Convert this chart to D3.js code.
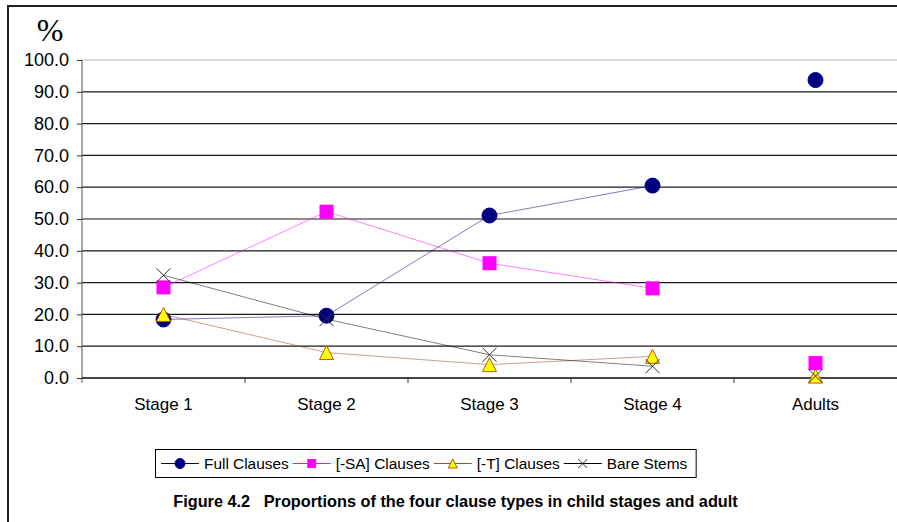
<!DOCTYPE html>
<html>
<head>
<meta charset="utf-8">
<script src="https://cdn.jsdelivr.net/npm/d3@7/dist/d3.min.js"></script>
<style>
  html, body { margin: 0; padding: 0; background: #fff; }
  svg { display: block; }
  text { font-family: "Liberation Sans", Arial, sans-serif; }
</style>
</head>
<body>
<svg id="chart" width="897" height="522"></svg>
<script>
// Groups along the x axis; only the child stages are joined by lines
const categories = ["Stage 1", "Stage 2", "Stage 3", "Stage 4", "Adults"];
const childStages = ["Stage 1", "Stage 2", "Stage 3", "Stage 4"];

// Percentages for each clause type, per group
const fullClauses = [18.4, 19.6, 51.1, 60.5, 93.7];
const saClauses   = [28.5, 52.3, 36.1, 28.2, 4.7];
const tClauses    = [20.0, 8.0, 4.2, 6.8, 0.6];
const bareStems   = [32.3, 18.5, 7.3, 3.7, 0.6];

const seriesNames = ["Full Clauses", "[-SA] Clauses", "[-T] Clauses", "Bare Stems"];
const yTicks = [0, 10, 20, 30, 40, 50, 60, 70, 80, 90, 100];

const series = [
  { name: seriesNames[0], values: fullClauses, shape: "circle",
    line: "#000080", lineOpacity: 0.5, legendLine: "#000080" },
  { name: seriesNames[1], values: saClauses, shape: "square",
    line: "#ff00ff", lineOpacity: 0.5, legendLine: "#ff00ff" },
  { name: seriesNames[2], values: tClauses, shape: "triangle",
    line: "#a04010", lineOpacity: 0.5, legendLine: "#b84a10" },
  { name: seriesNames[3], values: bareStems, shape: "cross",
    line: "#000000", lineOpacity: 0.5, legendLine: "#000000" }
];

const svg = d3.select("#chart");

// Outer frame of the figure
svg.append("rect")
  .attr("x", 8).attr("y", 6)
  .attr("width", 920).attr("height", 540)
  .attr("fill", "none").attr("stroke", "#222").attr("stroke-width", 2);

// "%" unit label above the value axis
svg.append("text")
  .attr("x", 50).attr("y", 41)
  .attr("text-anchor", "middle")
  .style("font-family", "'Liberation Serif', 'DejaVu Serif', 'Times New Roman', serif")
  .style("font-size", "32px")
  .text("%");

const plot = { left: 82, right: 897, top: 60, bottom: 378 };

const x = d3.scaleBand().domain(categories).range([plot.left, plot.right]).padding(0);
const y = d3.scaleLinear().domain([0, 100]).range([plot.bottom, plot.top]);
const cx = c => x(c) + x.bandwidth() / 2;

// Horizontal gridlines
svg.append("g")
  .selectAll("line")
  .data(yTicks)
  .join("line")
  .attr("x1", plot.left).attr("x2", plot.right)
  .attr("y1", d => y(d)).attr("y2", d => y(d))
  .attr("stroke", d => d === 100 ? "#b8b8b8" : "#1a1a1a")
  .attr("stroke-width", 1.2);

// Value axis
const yAxis = d3.axisLeft(y)
  .tickValues(yTicks)
  .tickFormat(d3.format(".1f"))
  .tickSize(5)
  .tickPadding(8);
const yg = svg.append("g")
  .attr("transform", `translate(${plot.left},0)`)
  .call(yAxis);
yg.select(".domain").attr("stroke", "#555").attr("d", `M-0,${plot.top}V${plot.bottom + 5}`);
yg.selectAll(".tick line").attr("stroke", "#333");
yg.selectAll(".tick text")
  .attr("fill", "#000")
  .style("font-family", "'Liberation Sans', Arial, sans-serif")
  .style("font-size", "18px");

// Category axis: labels centred on each group, ticks between groups
const xAxis = d3.axisBottom(x).tickSize(0).tickPadding(20);
const xg = svg.append("g")
  .attr("transform", `translate(0,${plot.bottom})`)
  .call(xAxis);
xg.select(".domain").attr("stroke", "#000").attr("d", `M${plot.left},0H${plot.right}`);
xg.selectAll(".tick text")
  .attr("fill", "#000")
  .style("font-family", "'Liberation Sans', Arial, sans-serif")
  .style("font-size", "17px");
svg.append("g")
  .selectAll("line")
  .data(categories.slice(1))
  .join("line")
  .attr("x1", d => x(d)).attr("x2", d => x(d))
  .attr("y1", plot.bottom).attr("y2", plot.bottom + 5)
  .attr("stroke", "#333");

// Marker drawing shared by plot and legend
function drawMarker(g, shape, size) {
  const h = size / 2;
  if (shape === "circle") {
    g.append("circle").attr("r", h).attr("fill", "#000080").attr("stroke", "#000080");
  } else if (shape === "square") {
    g.append("rect").attr("x", -h).attr("y", -h).attr("width", size).attr("height", size)
      .attr("fill", "#ff00ff");
  } else if (shape === "triangle") {
    g.append("path")
      .attr("d", `M0,${-h}L${h},${h}L${-h},${h}Z`)
      .attr("fill", "#ffff00").attr("stroke", "#b85a10").attr("stroke-width", 1);
  } else {
    g.append("path")
      .attr("d", `M${-h},${-h}L${h},${h}M${-h},${h}L${h},${-h}`)
      .attr("fill", "none").attr("stroke", "#333").attr("stroke-width", 1);
  }
}

const line = d3.line()
  .x(d => cx(d.cat))
  .y(d => y(d.v));

// Each series: connecting line across child stages, then its markers
series.forEach(s => {
  const pts = categories.map((cat, i) => ({ cat, v: s.values[i] }));
  const g = svg.append("g");
  g.append("path")
    .datum(pts.filter(p => childStages.includes(p.cat)))
    .attr("d", line)
    .attr("fill", "none")
    .attr("stroke", s.line)
    .attr("stroke-opacity", s.lineOpacity)
    .attr("stroke-width", 1);
  g.selectAll("g.mark")
    .data(pts)
    .join("g")
    .attr("class", "mark")
    .attr("transform", d => `translate(${cx(d.cat)},${y(d.v)})`)
    .each(function () { drawMarker(d3.select(this), s.shape, s.shape === "circle" ? 15 : 14); });
});

// Legend
const legend = svg.append("g");
const legendBox = legend.append("rect")
  .attr("fill", "#fff").attr("stroke", "#000").attr("stroke-width", 1);
let lx = 161;
const ly = 463.5;
series.forEach(s => {
  const item = legend.append("g");
  item.append("line")
    .attr("x1", lx).attr("x2", lx + 38)
    .attr("y1", ly).attr("y2", ly)
    .attr("stroke", s.legendLine).attr("stroke-width", 1);
  const m = item.append("g").attr("transform", `translate(${lx + 19},${ly})`);
  drawMarker(m, s.shape, s.shape === "circle" ? 10 : 9);
  const t = item.append("text")
    .attr("x", lx + 43).attr("y", ly + 5.5)
    .style("font-size", "15.4px")
    .text(s.name);
  lx = lx + 43 + t.node().getComputedTextLength() + 4;
});
legendBox
  .attr("x", 155.5).attr("y", 449.5)
  .attr("width", lx + 5 - 155.5).attr("height", 28);

// Figure caption
svg.append("text")
  .attr("x", 455.5).attr("y", 507)
  .attr("text-anchor", "middle")
  .attr("xml:space", "preserve")
  .style("white-space", "pre")
  .style("font-weight", "bold")
  .style("font-size", "16.3px")
  .text("Figure 4.2   Proportions of the four clause types in child stages and adult");
</script>
</body>
</html>
